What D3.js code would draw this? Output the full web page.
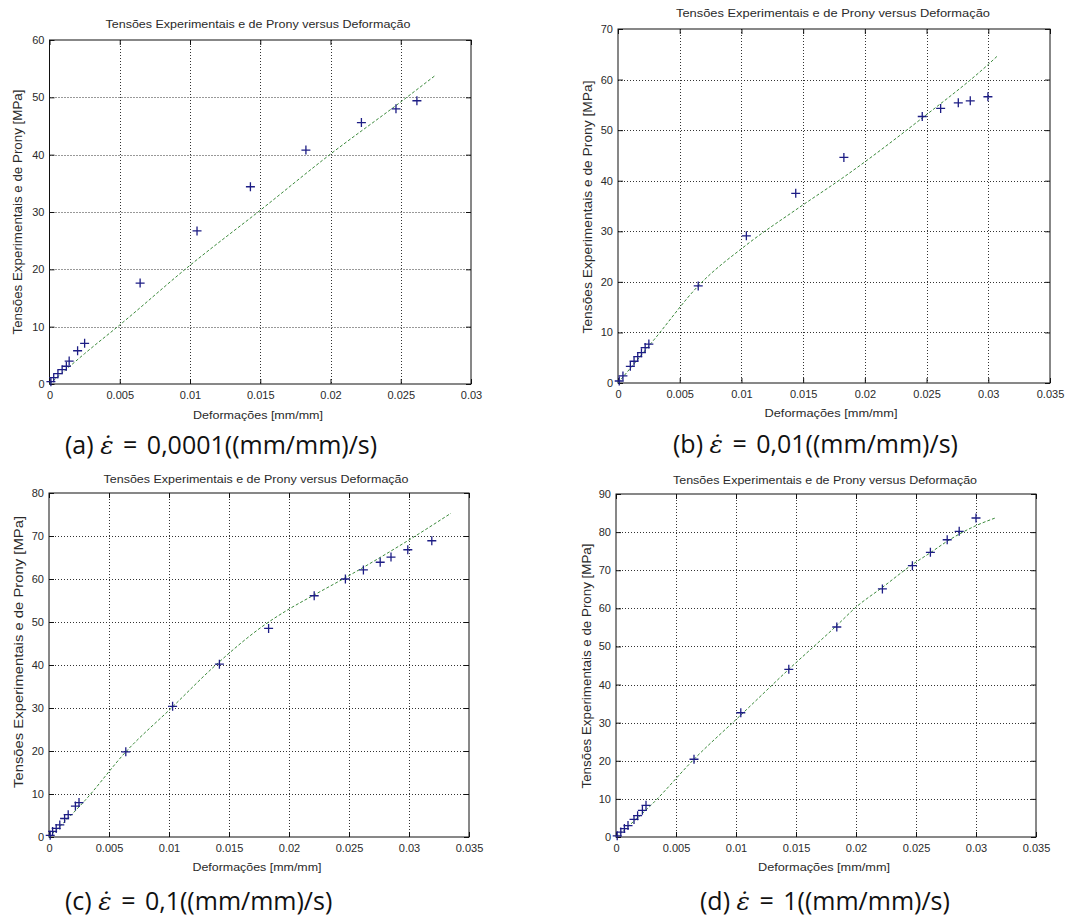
<!DOCTYPE html>
<html lang="pt">
<head>
<meta charset="utf-8">
<title>Tensões Experimentais e de Prony versus Deformação</title>
<script src="https://d3js.org/d3.v7.min.js"></script>
<style>
  body { margin: 0; background: #fff; }
  svg { display: block; background: #fff; }
  .axis text, .lbl { font-family: "Liberation Sans", Arial, Helvetica, sans-serif; fill: #2a2a2a; }
  .axis text { font-size: 11px; }
  .axis line { stroke: #111; }
  .grid { stroke: #333; stroke-width: 1; stroke-dasharray: 1,2; }
  .box { fill: none; stroke: #111; stroke-width: 1; }
  .prony { fill: none; stroke: #3b8a3b; stroke-width: 1; stroke-dasharray: 3,2; }
  .mark { stroke: #1d1d85; stroke-width: 1.3; fill: none; }
  .caption { font-family: "Open Sans", "Noto Sans", sans-serif; font-size: 25px; fill: #111; }
  .eps { font-family: "DejaVu Serif", serif; font-style: italic; }
</style>
</head>
<body>
<svg id="fig" width="1091" height="916"></svg>
<script>
// ---- data ----
// (a) taxa 0,0001
const strainA = [0.0001, 0.0003, 0.0006, 0.0009, 0.0012, 0.0014, 0.0020, 0.0025, 0.00645, 0.0105, 0.0143, 0.01825, 0.0222, 0.02466, 0.02615];
const stressA = [0.4, 1.1, 1.8, 2.5, 3.1, 4.0, 5.8, 7.1, 17.6, 26.7, 34.4, 40.8, 45.6, 48.0, 49.4];
const pronyStrainA = [0, 0.0025, 0.005, 0.01, 0.015, 0.02, 0.025, 0.0275];
const pronyStressA = [0, 5.3, 10.3, 20.7, 30.3, 40.1, 49.2, 53.9];

// (b) taxa 0,01
const strainB = [0.0001, 0.0004, 0.0010, 0.0013, 0.0016, 0.0019, 0.0022, 0.0025, 0.0065, 0.0104, 0.0144, 0.0183, 0.02465, 0.02614, 0.02757, 0.02854, 0.02997];
const stressB = [0.4, 1.4, 3.3, 4.3, 5.2, 6.0, 7.0, 7.7, 19.2, 29.1, 37.5, 44.6, 52.7, 54.3, 55.4, 55.8, 56.6];
const pronyStrainB = [0, 0.003, 0.0065, 0.0104, 0.0145, 0.0184, 0.0247, 0.030, 0.0308];
const pronyStressB = [0, 8.8, 19.2, 27.3, 34.4, 40.9, 52.5, 63.0, 64.8];

// (c) taxa 0,1
const strainC = [0.0001, 0.0003, 0.0006, 0.0009, 0.0013, 0.0016, 0.0022, 0.0025, 0.0064, 0.0103, 0.0142, 0.0183, 0.0221, 0.0247, 0.0262, 0.0276, 0.0285, 0.0299, 0.0319];
const stressC = [0.4, 1.3, 2.0, 2.8, 4.3, 5.2, 7.2, 8.0, 19.8, 30.4, 40.2, 48.5, 56.1, 60.0, 62.1, 63.9, 65.1, 66.8, 68.9];
const pronyStrainC = [0, 0.003, 0.0064, 0.0102, 0.0139, 0.0181, 0.0200, 0.0221, 0.0245, 0.0303, 0.0335];
const pronyStressC = [0, 8.5, 19.8, 30, 40, 49.6, 53.0, 56.3, 60, 69.6, 75.3];

// (d) taxa 1
const strainD = [0.0001, 0.0004, 0.0007, 0.0010, 0.0015, 0.0018, 0.0022, 0.0025, 0.0065, 0.0104, 0.0144, 0.0184, 0.0222, 0.0247, 0.0262, 0.0276, 0.0286, 0.0300];
const stressD = [0.3, 1.3, 2.2, 3.0, 4.6, 5.6, 7.0, 8.3, 20.4, 32.6, 44.0, 55.1, 65.1, 71.2, 74.7, 78.0, 80.2, 83.7];
const pronyStrainD = [0, 0.003, 0.0065, 0.0104, 0.0144, 0.0184, 0.0200, 0.0222, 0.0247, 0.0262, 0.0276, 0.0300, 0.0316];
const pronyStressD = [0, 8.6, 20.4, 32.0, 44.0, 55.5, 60.3, 65.5, 71.5, 74.6, 77.6, 81.7, 83.7];

// ticks
const xTicksA = [0, 0.005, 0.01, 0.015, 0.02, 0.025, 0.03];
const xTicksBCD = [0, 0.005, 0.01, 0.015, 0.02, 0.025, 0.03, 0.035];
const yTicksA = [0, 10, 20, 30, 40, 50, 60];
const yTicksB = [0, 10, 20, 30, 40, 50, 60, 70];
const yTicksC = [0, 10, 20, 30, 40, 50, 60, 70, 80];
const yTicksD = [0, 10, 20, 30, 40, 50, 60, 70, 80, 90];

// texts
const titleText = "Tensões Experimentais e de Prony versus Deformação";
const xLabelText = "Deformações [mm/mm]";
const yLabelText = "Tensões Experimentais e de Prony [MPa]";
const captionTags = ["(a)", "(b)", "(c)", "(d)"];
const captionRates = ["0,0001", "0,01", "0,1", "1"];

// ---- layout (pixels) ----
const panels = [
  {tag: 0, sx: strainA, sy: stressA, px: pronyStrainA, py: pronyStressA, xTicks: xTicksA, yTicks: yTicksA,
   box: {left: 49.5, right: 471, top: 40, bottom: 384},
   title: {x: 258, y: 28, w: 305}, xlab: {x: 258, y: 419, w: 130}, ylab: {x: 22, y: 212, w: 245},
   cap: {x: 65, y: 454}},
  {tag: 1, sx: strainB, sy: stressB, px: pronyStrainB, py: pronyStressB, xTicks: xTicksBCD, yTicks: yTicksB,
   box: {left: 618, right: 1050, top: 29, bottom: 383},
   title: {x: 833, y: 17, w: 314}, xlab: {x: 831, y: 417, w: 133}, ylab: {x: 592, y: 207, w: 253},
   cap: {x: 673, y: 453}},
  {tag: 2, sx: strainC, sy: stressC, px: pronyStrainC, py: pronyStressC, xTicks: xTicksBCD, yTicks: yTicksC,
   box: {left: 49, right: 469, top: 493, bottom: 837},
   title: {x: 256, y: 483, w: 305}, xlab: {x: 257, y: 871, w: 129}, ylab: {x: 23, y: 652, w: 272},
   cap: {x: 65, y: 910}},
  {tag: 3, sx: strainD, sy: stressD, px: pronyStrainD, py: pronyStressD, xTicks: xTicksBCD, yTicks: yTicksD,
   box: {left: 616, right: 1036, top: 494, bottom: 837},
   title: {x: 825, y: 484, w: 304}, xlab: {x: 824, y: 871, w: 132}, ylab: {x: 591, y: 666, w: 245},
   cap: {x: 700, y: 910}}
];

const svg = d3.select("#fig");
const fmt = d => d === 0 ? "0" : String(+d.toFixed(3));

panels.forEach(drawPanel);

function drawPanel(p) {
  const b = p.box;
  const x = d3.scaleLinear().domain([0, d3.max(p.xTicks)]).range([b.left, b.right]);
  const y = d3.scaleLinear().domain([0, d3.max(p.yTicks)]).range([b.bottom, b.top]);
  const g = svg.append("g");

  // dotted grid
  g.append("g").selectAll("line").data(p.xTicks.slice(1, -1)).join("line")
    .attr("class", "grid")
    .attr("x1", d => Math.round(x(d)) + 0.5).attr("x2", d => Math.round(x(d)) + 0.5)
    .attr("y1", b.top).attr("y2", b.bottom);
  g.append("g").selectAll("line").data(p.yTicks.slice(1, -1)).join("line")
    .attr("class", "grid")
    .attr("y1", d => Math.round(y(d)) + 0.5).attr("y2", d => Math.round(y(d)) + 0.5)
    .attr("x1", b.left).attr("x2", b.right);

  // axes with inward ticks (matlab style)
  g.append("g").attr("class", "axis").attr("transform", `translate(0,${b.bottom})`)
    .call(d3.axisBottom(x).tickValues(p.xTicks).tickSize(-5).tickPadding(7).tickFormat(fmt))
    .call(a => a.select(".domain").remove());
  g.append("g").attr("class", "axis").attr("transform", `translate(0,${b.top})`)
    .call(d3.axisTop(x).tickValues(p.xTicks).tickSize(-5).tickFormat(""))
    .call(a => a.select(".domain").remove());
  g.append("g").attr("class", "axis").attr("transform", `translate(${b.left},0)`)
    .call(d3.axisLeft(y).tickValues(p.yTicks).tickSize(-5).tickPadding(5).tickFormat(fmt))
    .call(a => a.select(".domain").remove());
  g.append("g").attr("class", "axis").attr("transform", `translate(${b.right},0)`)
    .call(d3.axisRight(y).tickValues(p.yTicks).tickSize(-5).tickFormat(""))
    .call(a => a.select(".domain").remove());

  g.append("rect").attr("class", "box")
    .attr("x", b.left).attr("y", b.top)
    .attr("width", b.right - b.left).attr("height", b.bottom - b.top);

  // prony fit
  const line = d3.line().x(d => x(d[0])).y(d => y(d[1])).curve(d3.curveMonotoneX);
  g.append("path").attr("class", "prony").attr("d", line(d3.zip(p.px, p.py)));

  // experimental points
  const pts = d3.zip(p.sx, p.sy);
  g.append("g").selectAll("path").data(pts).join("path")
    .attr("class", "mark")
    .attr("d", d => {
      const cx = x(d[0]), cy = y(d[1]), r = 4.5;
      return `M${cx - r},${cy}H${cx + r}M${cx},${cy - r}V${cy + r}`;
    });

  // texts
  g.append("text").attr("class", "lbl").attr("x", p.title.x).attr("y", p.title.y)
    .attr("text-anchor", "middle").attr("font-size", 11)
    .attr("textLength", p.title.w).attr("lengthAdjust", "spacingAndGlyphs")
    .text(titleText);
  g.append("text").attr("class", "lbl").attr("x", p.xlab.x).attr("y", p.xlab.y)
    .attr("text-anchor", "middle").attr("font-size", 11)
    .attr("textLength", p.xlab.w).attr("lengthAdjust", "spacingAndGlyphs")
    .text(xLabelText);
  g.append("text").attr("class", "lbl")
    .attr("transform", `translate(${p.ylab.x},${p.ylab.y}) rotate(-90)`)
    .attr("text-anchor", "middle").attr("font-size", 12)
    .attr("textLength", p.ylab.w).attr("lengthAdjust", "spacingAndGlyphs")
    .text(yLabelText);

  const cap = g.append("text").attr("class", "caption").attr("x", p.cap.x).attr("y", p.cap.y);
  cap.append("tspan").text(captionTags[p.tag] + " ");
  cap.append("tspan").attr("class", "eps").text("ε\u0307");
  cap.append("tspan").attr("dx", 3).text(" = ");
  cap.append("tspan").attr("dx", 3).text(captionRates[p.tag] + "((mm/mm)/s)");
}
</script>
</body>
</html>
